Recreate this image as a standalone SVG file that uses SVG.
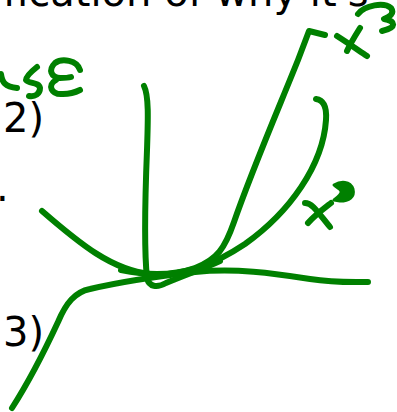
<svg xmlns="http://www.w3.org/2000/svg" width="397" height="412" viewBox="0 0 397 412">
<style>
.ink{fill:none;stroke:#008000;stroke-width:6;stroke-linecap:round;stroke-linejoin:round}
.txt{font-family:"DejaVu Sans",sans-serif;font-size:40px;fill:#000}
</style>
<rect width="397" height="412" fill="#fff"/>
<g id="text">
<text class="txt" x="-81" y="6">justification of why it's</text>
<text class="txt" x="3" y="132">2)</text>
<text class="txt" x="3" y="346">3)</text>
<text class="txt" x="-4" y="201">.</text>
</g>
<g id="word-se">
<path class="ink" d="M1,74 C2,82 5,87 17,88"/>
<path class="ink" d="M37,67 C32,71 26,76 26,80 C29,84 39,82 40,88 C40,94 35,97 29,96"/>
<path class="ink" d="M80,70 C77,60 62,58 55,63 C48,70 51,77 60,78 C64,78 68,78 71,77 M56,80 C47,85 51,95 63,94 C71,94 76,92 80,90"/>
</g>
<g id="curves">
<path class="ink" d="M144,86 C149,96 148,120 147,150 C145,200 144,250 147,278 C149,287 157,288 166,283 C185,275 205,268 220,261"/>
<path class="ink" d="M325,35 L309,31 L298,60 C280,105 252,170 234,222 C225,248 217,260 195,268 C172,276 145,275 121,270"/>
<path class="ink" d="M42,211 C80,244 112,270 150,274 C185,276 215,264 245,244 C290,212 323,165 326,120 C327,106 323,100 316,99"/>
<path class="ink" d="M12,408 C30,380 45,350 58,322 C66,303 75,292 90,289 C120,282 160,276 195,272 C235,268 272,273 310,279 C335,283 355,282 368,282"/>
</g>
<g id="label-x3">
<path class="ink" d="M337,36 C348,43 358,50 367,56"/>
<path class="ink" d="M360,28 C355,36 350,44 347,51"/>
<path class="ink" d="M358,14 C365,5 384,2 391,8 C395,14 389,17 384,19 C396,21 397,28 382,31"/>
</g>
<g id="label-x2">
<path class="ink" d="M305,203 C311,203 314,207 330,227"/>
<path class="ink" d="M331,203 C322,210 314,216 308,223"/>
<path d="M334,185 C341,181 350,181 353,189 C355,197 349,201 340,201 L334,200 C338,197 342,194 341,191 C340,189 337,188 334,185 Z" fill="#008000" stroke="#008000" stroke-width="3" stroke-linejoin="round"/>
</g>
</svg>
